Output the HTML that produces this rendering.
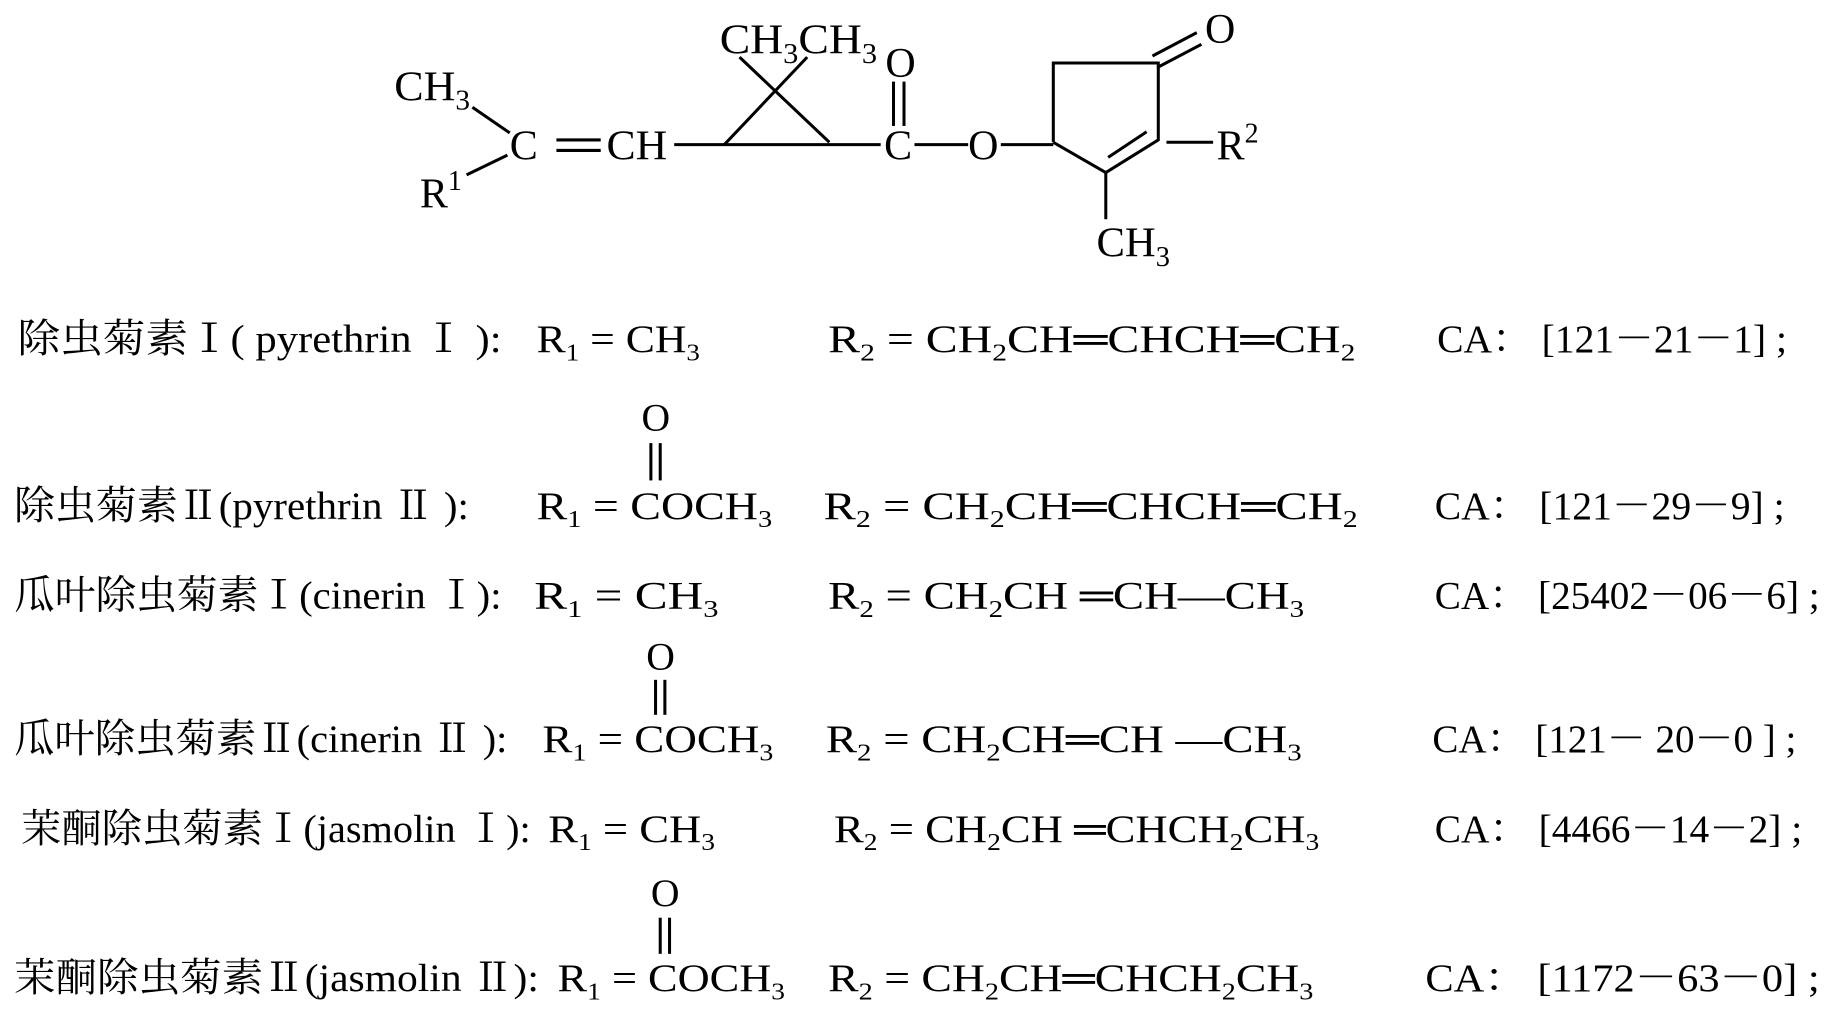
<!DOCTYPE html>
<html><head><meta charset="utf-8"><style>
html,body{margin:0;padding:0;background:#fff}
svg{display:block}
text{font-family:"Liberation Serif","Noto Serif CJK SC","Noto Sans CJK SC",serif;fill:#000}
</style></head><body>
<svg width="1829" height="1011" viewBox="0 0 1568 867" preserveAspectRatio="none" xmlns="http://www.w3.org/2000/svg">
<g stroke="#000" stroke-width="2.6" fill="none">
<line x1="405" y1="92" x2="437" y2="114"/>
<line x1="400" y1="150" x2="435" y2="133"/>
<line x1="477" y1="120" x2="515" y2="120"/>
<line x1="477" y1="129" x2="515" y2="129"/>
<line x1="578" y1="124" x2="755" y2="124"/>
<line x1="621" y1="124" x2="692" y2="49"/>
<line x1="711" y1="122" x2="634" y2="49"/>
<line x1="766" y1="70" x2="766" y2="108"/>
<line x1="775" y1="70" x2="775" y2="108"/>
<line x1="784" y1="124" x2="830" y2="124"/>
<line x1="858" y1="124" x2="903" y2="124"/>
<polyline points="903,122 903,54 993,54 993,120 948,148 903,122"/>
<line x1="992" y1="58" x2="1030" y2="38"/>
<line x1="988" y1="48" x2="1026" y2="28"/>
<line x1="983" y1="113" x2="950" y2="135"/>
<line x1="1000" y1="122" x2="1040" y2="122"/>
<line x1="948" y1="148" x2="948" y2="188"/>
<line x1="558" y1="380" x2="558" y2="412"/><line x1="566" y1="380" x2="566" y2="412"/>
<line x1="562" y1="583" x2="562" y2="613"/><line x1="570" y1="583" x2="570" y2="613"/>
<line x1="566" y1="787" x2="566" y2="818"/><line x1="574" y1="787" x2="574" y2="818"/>
</g>
<g font-size="36">
<text x="338" y="86" textLength="65" lengthAdjust="spacingAndGlyphs">CH<tspan dy="8" font-size="24">3</tspan></text>
<text x="437" y="137">C</text>
<text x="520" y="137" textLength="52" lengthAdjust="spacingAndGlyphs">CH</text>
<text x="617" y="46" textLength="135" lengthAdjust="spacingAndGlyphs">CH<tspan dy="8" font-size="24">3</tspan><tspan dy="-8">CH</tspan><tspan dy="8" font-size="24">3</tspan></text>
<text x="759" y="66">O</text>
<text x="758" y="137">C</text>
<text x="830" y="137">O</text>
<text x="1033" y="37">O</text>
<text x="1043" y="137">R<tspan dy="-15" font-size="24">2</tspan></text>
<text x="360" y="178">R<tspan dy="-15" font-size="24">1</tspan></text>
<text x="940" y="220" textLength="63" lengthAdjust="spacingAndGlyphs">CH<tspan dy="8" font-size="24">3</tspan></text>
</g>
<g font-size="34">
<text x="15" y="302" textLength="415" lengthAdjust="spacingAndGlyphs">除虫菊素Ⅰ( pyrethrin Ⅰ ):</text>
<text x="460" y="302" textLength="140" lengthAdjust="spacingAndGlyphs">R<tspan dy="7" font-size="21">1</tspan><tspan dy="-7"> = CH</tspan><tspan dy="7" font-size="21">3</tspan></text>
<text x="710" y="302" textLength="452" lengthAdjust="spacingAndGlyphs">R<tspan dy="7" font-size="21">2</tspan><tspan dy="-7"> = CH</tspan><tspan dy="7" font-size="21">2</tspan><tspan dy="-7">CH═CHCH═CH</tspan><tspan dy="7" font-size="21">2</tspan></text>
<text x="1232" y="302" textLength="300" lengthAdjust="spacingAndGlyphs">CA： [121－21－1] ;</text>

<text x="550" y="369">O</text>
<text x="12" y="445" textLength="390" lengthAdjust="spacingAndGlyphs">除虫菊素Ⅱ(pyrethrin Ⅱ ):</text>
<text x="460" y="445" textLength="202" lengthAdjust="spacingAndGlyphs">R<tspan dy="7" font-size="21">1</tspan><tspan dy="-7"> = COCH</tspan><tspan dy="7" font-size="21">3</tspan></text>
<text x="706" y="445" textLength="458" lengthAdjust="spacingAndGlyphs">R<tspan dy="7" font-size="21">2</tspan><tspan dy="-7"> = CH</tspan><tspan dy="7" font-size="21">2</tspan><tspan dy="-7">CH═CHCH═CH</tspan><tspan dy="7" font-size="21">2</tspan></text>
<text x="1230" y="445" textLength="300" lengthAdjust="spacingAndGlyphs">CA： [121－29－9] ;</text>

<text x="12" y="522" textLength="418" lengthAdjust="spacingAndGlyphs">瓜叶除虫菊素Ⅰ(cinerin Ⅰ):</text>
<text x="458" y="522" textLength="158" lengthAdjust="spacingAndGlyphs">R<tspan dy="7" font-size="21">1</tspan><tspan dy="-7"> = CH</tspan><tspan dy="7" font-size="21">3</tspan></text>
<text x="710" y="522" textLength="408" lengthAdjust="spacingAndGlyphs">R<tspan dy="7" font-size="21">2</tspan><tspan dy="-7"> = CH</tspan><tspan dy="7" font-size="21">2</tspan><tspan dy="-7">CH ═CH—CH</tspan><tspan dy="7" font-size="21">3</tspan></text>
<text x="1230" y="522" textLength="330" lengthAdjust="spacingAndGlyphs">CA： [25402－06－6] ;</text>

<text x="554" y="574">O</text>
<text x="12" y="645" textLength="423" lengthAdjust="spacingAndGlyphs">瓜叶除虫菊素Ⅱ(cinerin Ⅱ ):</text>
<text x="465" y="645" textLength="198" lengthAdjust="spacingAndGlyphs">R<tspan dy="7" font-size="21">1</tspan><tspan dy="-7"> = COCH</tspan><tspan dy="7" font-size="21">3</tspan></text>
<text x="708" y="645" textLength="408" lengthAdjust="spacingAndGlyphs">R<tspan dy="7" font-size="21">2</tspan><tspan dy="-7"> = CH</tspan><tspan dy="7" font-size="21">2</tspan><tspan dy="-7">CH═CH —CH</tspan><tspan dy="7" font-size="21">3</tspan></text>
<text x="1228" y="645" textLength="312" lengthAdjust="spacingAndGlyphs">CA： [121－ 20－0 ] ;</text>

<text x="18" y="722" textLength="437" lengthAdjust="spacingAndGlyphs">茉酮除虫菊素Ⅰ(jasmolin Ⅰ):</text>
<text x="470" y="722" textLength="143" lengthAdjust="spacingAndGlyphs">R<tspan dy="7" font-size="21">1</tspan><tspan dy="-7"> = CH</tspan><tspan dy="7" font-size="21">3</tspan></text>
<text x="715" y="722" textLength="416" lengthAdjust="spacingAndGlyphs">R<tspan dy="7" font-size="21">2</tspan><tspan dy="-7"> = CH</tspan><tspan dy="7" font-size="21">2</tspan><tspan dy="-7">CH ═CHCH</tspan><tspan dy="7" font-size="21">2</tspan><tspan dy="-7">CH</tspan><tspan dy="7" font-size="21">3</tspan></text>
<text x="1230" y="722" textLength="315" lengthAdjust="spacingAndGlyphs">CA： [4466－14－2] ;</text>

<text x="558" y="777">O</text>
<text x="12" y="850" textLength="450" lengthAdjust="spacingAndGlyphs">茉酮除虫菊素Ⅱ(jasmolin Ⅱ):</text>
<text x="478" y="850" textLength="195" lengthAdjust="spacingAndGlyphs">R<tspan dy="7" font-size="21">1</tspan><tspan dy="-7"> = COCH</tspan><tspan dy="7" font-size="21">3</tspan></text>
<text x="710" y="850" textLength="416" lengthAdjust="spacingAndGlyphs">R<tspan dy="7" font-size="21">2</tspan><tspan dy="-7"> = CH</tspan><tspan dy="7" font-size="21">2</tspan><tspan dy="-7">CH═CHCH</tspan><tspan dy="7" font-size="21">2</tspan><tspan dy="-7">CH</tspan><tspan dy="7" font-size="21">3</tspan></text>
<text x="1222" y="850" textLength="338" lengthAdjust="spacingAndGlyphs">CA： [1172－63－0] ;</text>
</g>
</svg>
</body></html>
